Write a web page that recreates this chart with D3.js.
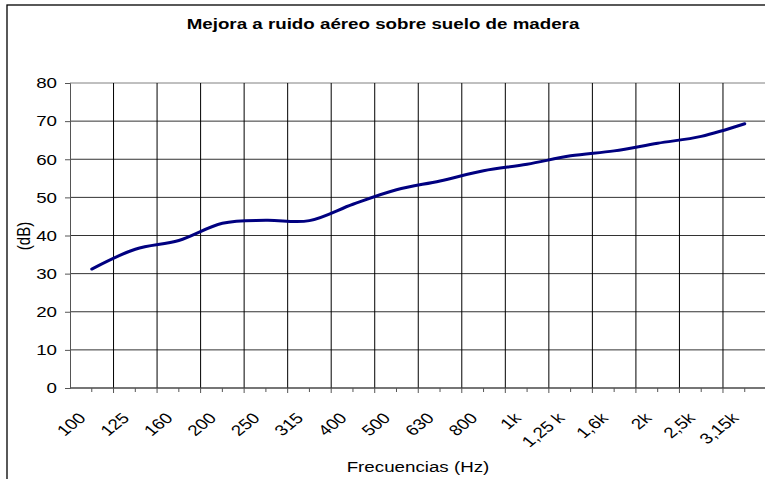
<!DOCTYPE html>
<html>
<head>
  <meta charset="utf-8">
  <script src="https://cdnjs.cloudflare.com/ajax/libs/d3/7.8.5/d3.min.js"></script>
  <title>Mejora a ruido aéreo</title>
  <style>
    body { margin: 0; background: #fff; }
    text { font-family: "Liberation Sans", Arial, sans-serif; }
  </style>
</head>
<body>
<script>
// frecuencias (bandas de tercio de octava)
var frecuencias = ["100","125","160","200","250","315","400","500","630","800","1k","1,25 k","1,6k","2k","2,5k","3,15k"];
// mejora en dB
var mejora = [31.2, 36.4, 38.7, 43.2, 44.0, 43.9, 48.2, 52.0, 54.3, 57.0, 58.7, 60.9, 62.2, 64.2, 66.0, 69.3];
var yTicks = [0, 10, 20, 30, 40, 50, 60, 70, 80];

var W = 765, H = 479;
var pl = 70, pr = 766.5, pt = 83, pb = 388;
var sx = 1.25; // el original esta estirado en horizontal

var svg = d3.select("body").append("svg")
  .attr("width", W).attr("height", H);

// borde del grafico (recortado a derecha y abajo)
svg.append("rect")
  .attr("x", 7).attr("y", 5)
  .attr("width", W + 10).attr("height", H + 10)
  .attr("fill", "#fff").attr("stroke", "#000").attr("stroke-width", 1.3);

var x = d3.scaleBand().domain(frecuencias).range([pl, pr]).padding(0);
var y = d3.scaleLinear().domain([0, 80]).range([pb, pt]);
function cx(d) { return x(d) + x.bandwidth() / 2; }

// rejilla horizontal
svg.selectAll(".hgrid").data(yTicks).enter().append("line")
  .attr("x1", pl).attr("x2", pr)
  .attr("y1", function(d) { return y(d); })
  .attr("y2", function(d) { return y(d); })
  .attr("stroke", function(d) { return d == 80 ? "#808080" : "#333"; })
  .attr("stroke-width", 1);

// rejilla vertical (limites de categoria)
svg.selectAll(".vgrid").data(frecuencias.slice(1)).enter().append("line")
  .attr("x1", function(d) { return x(d); })
  .attr("x2", function(d) { return x(d); })
  .attr("y1", pt).attr("y2", pb)
  .attr("stroke", "#000").attr("stroke-width", 1);

// eje Y
var yAxis = svg.append("g")
  .attr("transform", "translate(" + pl + ",0)")
  .call(d3.axisLeft(y).tickValues(yTicks).tickSize(5).tickFormat(""));
yAxis.select(".domain").attr("stroke", "#555");
yAxis.selectAll(".tick line").attr("stroke", "#555");

svg.selectAll(".ylab").data(yTicks).enter().append("text")
  .attr("transform", function(d) {
    return "translate(57," + (y(d) + 5.3) + ") scale(" + sx + ",1)";
  })
  .attr("text-anchor", "end")
  .attr("font-size", 15)
  .text(function(d) { return d; });

// eje X
svg.append("line")
  .attr("x1", pl).attr("x2", pr)
  .attr("y1", pb).attr("y2", pb)
  .attr("stroke", "#555").attr("stroke-width", 1.2);

svg.selectAll(".majt").data(frecuencias.slice(1)).enter().append("line")
  .attr("x1", function(d) { return x(d); })
  .attr("x2", function(d) { return x(d); })
  .attr("y1", pb).attr("y2", pb + 5)
  .attr("stroke", "#555");

svg.selectAll(".mint").data(frecuencias).enter().append("line")
  .attr("x1", cx).attr("x2", cx)
  .attr("y1", pb).attr("y2", pb + 4)
  .attr("stroke", "#555");

svg.selectAll(".xlab").data(frecuencias).enter().append("text")
  .attr("transform", function(d) {
    return "translate(" + (cx(d) - 5) + "," + (pb + 31) + ") scale(" + sx + ",1) rotate(-45)";
  })
  .attr("text-anchor", "end")
  .attr("font-size", 15)
  .text(function(d) { return d; });

// linea suavizada
var linea = d3.line()
  .x(function(d, i) { return cx(frecuencias[i]); })
  .y(function(d) { return y(d); })
  .curve(d3.curveCardinal.tension(0));

svg.append("path")
  .datum(mejora)
  .attr("d", linea)
  .attr("fill", "none")
  .attr("stroke", "#000080")
  .attr("stroke-width", 3)
  .attr("stroke-linecap", "round");

// titulos
svg.append("text")
  .attr("transform", "translate(383,29) scale(" + sx + ",1)")
  .attr("text-anchor", "middle")
  .attr("font-size", 15).attr("font-weight", "bold")
  .text("Mejora a ruido aéreo sobre suelo de madera");

svg.append("text")
  .attr("transform", "translate(418,472) scale(" + sx + ",1)")
  .attr("text-anchor", "middle")
  .attr("font-size", 15)
  .text("Frecuencias (Hz)");

svg.append("text")
  .attr("transform", "translate(30,236) scale(" + sx + ",1) rotate(-90)")
  .attr("text-anchor", "middle")
  .attr("font-size", 15)
  .text("(dB)");
</script>
</body>
</html>
